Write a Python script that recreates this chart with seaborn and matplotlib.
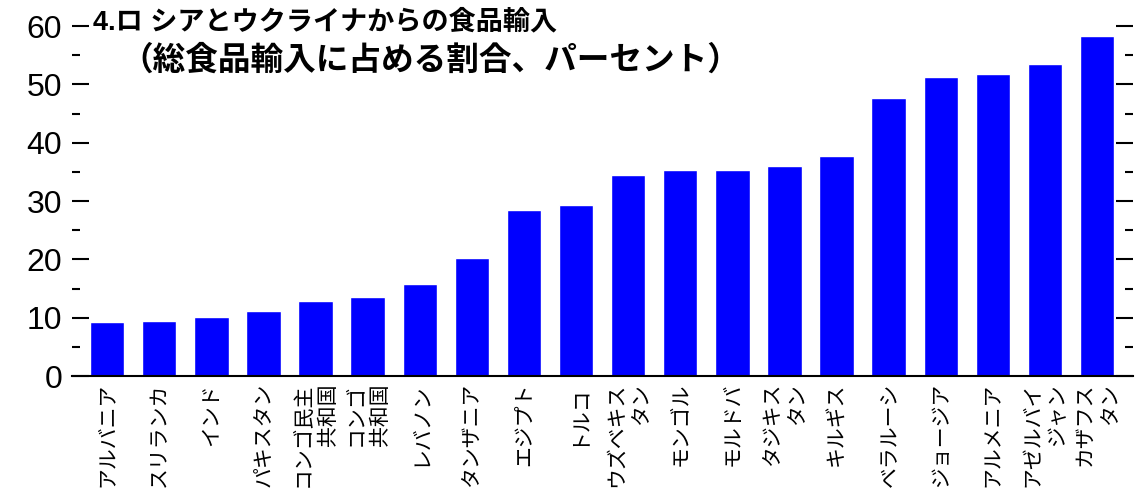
import matplotlib
matplotlib.use('Agg')
import matplotlib.pyplot as plt
import seaborn as sns
import pandas as pd
from matplotlib.ticker import MultipleLocator

# Food imports from Russia and Ukraine (share of total food imports, %)
countries = ['アルバニア', 'スリランカ', 'インド', 'パキスタン', 'コンゴ民主\n共和国',
             'コンゴ\n共和国', 'レバノン', 'タンザニア', 'エジプト', 'トルコ',
             'ウズベキス\nタン', 'モンゴル', 'モルドバ', 'タジキス\nタン', 'キルギス',
             'ベラルーシ', 'ジョージア', 'アルメニア', 'アゼルバイ\nジャン', 'カザフス\nタン']
shares = [9.2, 9.5, 10.2, 11.1, 12.8, 13.5, 15.7, 20.2, 28.5, 29.4,
          34.4, 35.3, 35.3, 36.0, 37.7, 47.7, 51.2, 51.7, 53.5, 58.3]
yticks = [0, 10, 20, 30, 40, 50, 60]

title1 = '4.ロ シアとウクライナからの食品輸入'
title2 = '（総食品輸入に占める割合、パーセント）'

sns.set_style('white')
plt.rcParams['font.family'] = ['Liberation Sans', 'Noto Sans CJK JP', 'DejaVu Sans']

df = pd.DataFrame({'country': countries, 'share': shares})

fig = plt.figure(figsize=(11.44, 4.88), dpi=100)
ax = fig.add_axes([0.0629, 0.2295, 0.9275, 0.7172])
sns.barplot(data=df, x='country', y='share', color='#0000ff', saturation=1,
            width=0.66, ax=ax)

ax.set_xlim(-0.675, len(countries) - 1 + 0.69)
ax.set_ylim(0, 60)
ax.set_xlabel('')
ax.set_ylabel('')

# y axis: ticks on both sides, no labels on the right
ax.set_yticks(yticks)
ax.yaxis.set_minor_locator(MultipleLocator(5))
ax.tick_params(axis='y', which='major', direction='in', length=12, width=1.5,
               left=True, right=True, labelsize=23, pad=7, colors='black')
ax.tick_params(axis='y', which='minor', direction='in', length=6, width=1.5,
               left=True, right=True, colors='black')

# x axis: short inward ticks, vertical japanese labels
ax.set_xticks(range(len(countries)))
ax.set_xticklabels(countries, rotation=90, fontsize=15, family=['Noto Sans CJK JP'],
                   va='top', ha='center', multialignment='right', color='black')
ax.tick_params(axis='x', direction='in', length=8, width=1.5, pad=5, colors='black')

for side in ['left', 'right', 'top']:
    ax.spines[side].set_visible(False)
ax.spines['bottom'].set_linewidth(1.5)
ax.spines['bottom'].set_color('black')

fig.text(93 / 1144, 1 - 22 / 488, title1, fontsize=19.5, fontweight='bold',
         va='center', ha='left', color='black')
fig.text(120 / 1144, 1 - 60 / 488, title2, fontsize=23.5, fontweight='bold',
         va='center', ha='left', color='black', family=['Noto Sans CJK JP'])

fig.savefig('out.png', dpi=100)
